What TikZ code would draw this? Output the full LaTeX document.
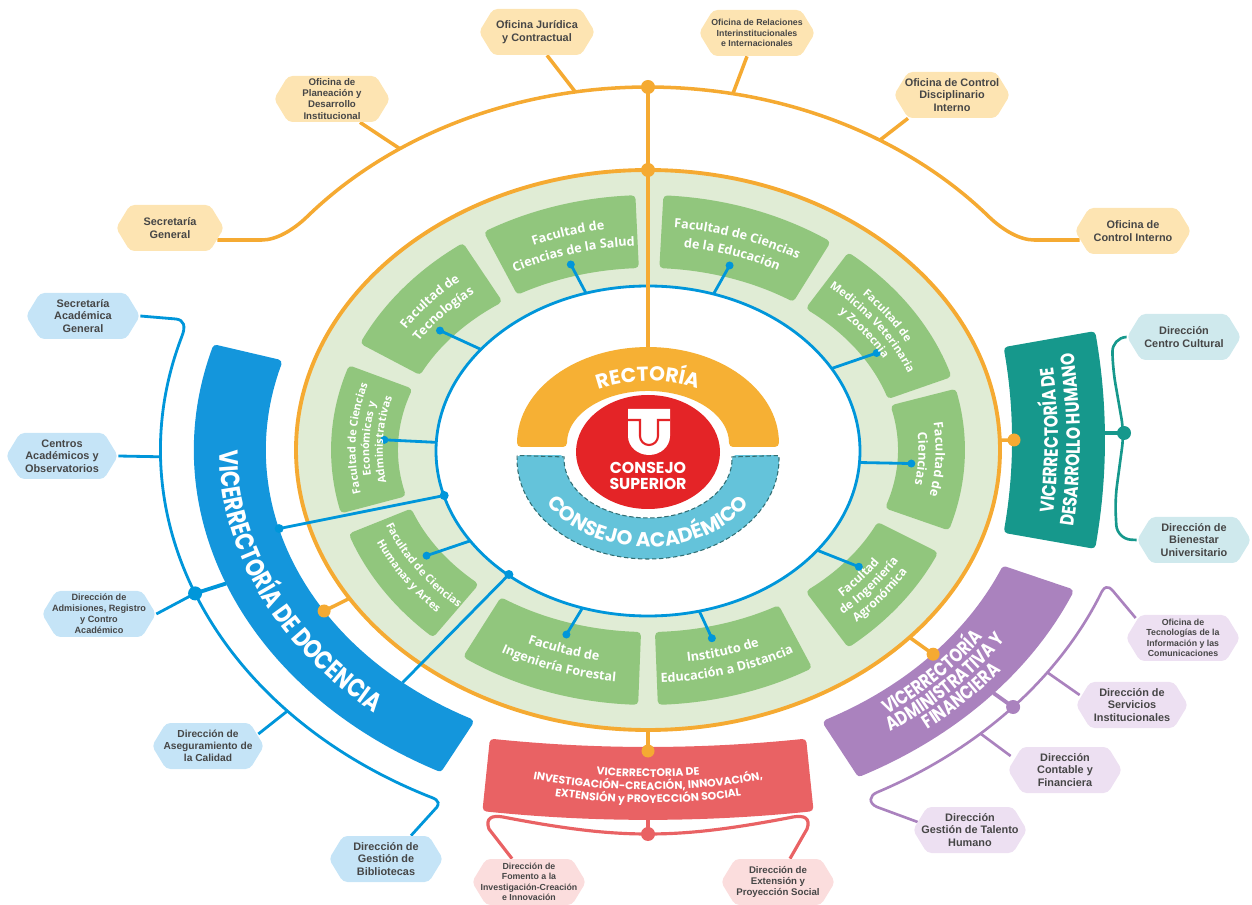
\documentclass[tikz,border=0pt]{standalone}
\usepackage{fontspec}
\setmainfont{Liberation Sans}
\newfontfamily\facfont{Open Sans}
\newfontfamily\titfont{Poppins}[FakeStretch=0.8]
\newfontfamily\popfont{Poppins}
\usetikzlibrary{calc,decorations.text}
\pgfdeclarelayer{fore}
\pgfsetlayers{main,fore}

\definecolor{orng}{RGB}{245,170,50}
\definecolor{ringg}{RGB}{224,236,213}
\definecolor{facg}{RGB}{145,198,125}
\definecolor{blu}{RGB}{0,150,218}
\definecolor{docb}{RGB}{20,150,220}
\definecolor{rectc}{RGB}{246,176,52}
\definecolor{redc}{RGB}{228,36,39}
\definecolor{acad}{RGB}{100,195,218}
\definecolor{acadb}{RGB}{50,110,115}
\definecolor{teal1}{RGB}{22,152,140}
\definecolor{purp}{RGB}{170,130,190}
\definecolor{redb}{RGB}{233,98,100}
\definecolor{hexo}{RGB}{253,228,178}
\definecolor{hexb}{RGB}{197,228,247}
\definecolor{hext}{RGB}{207,233,237}
\definecolor{hexp}{RGB}{237,224,242}
\definecolor{hexr}{RGB}{251,221,221}
\definecolor{hextxt}{RGB}{70,70,70}

\tikzset{
 oline/.style={draw=orng, line width=2pt},
 bline/.style={draw=blu, line width=1.6pt},
 tline/.style={draw=teal1, line width=1.5pt},
 pline/.style={draw=purp, line width=1.5pt},
 rline/.style={draw=redb, line width=1.8pt},
 facbox/.style={fill=facg, draw=facg, line width=4.5pt, line join=round},
 docbox/.style={fill=docb, draw=docb, line width=4.5pt, line join=round},
 tealbox/.style={fill=teal1, draw=teal1, line width=4.5pt, line join=round},
 purbox/.style={fill=purp, draw=purp, line width=4.5pt, line join=round},
 redbox/.style={fill=redb, draw=redb, line width=4.5pt, line join=round},
 rectbox/.style={fill=rectc, draw=rectc, line width=4.5pt, line join=round},
 acadbox/.style={fill=acad, draw=acad, line width=4.5pt, line join=round},
 acaddash/.style={draw=acadb, line width=0.6pt, dash pattern=on 2.5pt off 1.5pt},
 hextext/.style={text=hextxt, align=center, inner sep=0pt, minimum height=0.92cm},
}

\newcommand{\annsec}[9]{%
 \pgfmathsetmacro\sxa{#2+(#6)*cos(#8)}%
 \pgfmathsetmacro\sya{#3+(#7)*sin(#8)}%
 \pgfmathsetmacro\sxb{#2+(#4)*cos(#9)}%
 \pgfmathsetmacro\syb{#3+(#5)*sin(#9)}%
 \path[#1] (\sxa,\sya) arc[start angle=#8, end angle=#9, x radius=#6, y radius=#7] -- (\sxb,\syb) arc[start angle=#9, end angle=#8, x radius=#4, y radius=#5] -- cycle;}

\newcommand{\curvtext}[8]{%
 \pgfmathsetmacro\ctx{#1+(#3)*cos(#5)}%
 \pgfmathsetmacro\cty{#2+(#4)*sin(#5)}%
 \path[decorate, decoration={text along path, text align=center, text={|#7|#8}}] (\ctx,\cty) arc[start angle=#5, end angle=#6, x radius=#3, y radius=#4];}

\newcommand{\facsz}{7.2}
\newcommand{\facfmt}{\facfont\bfseries\fontsize{\facsz}{\facsz}\selectfont\color{white}}
\newcommand{\fline}[4]{\curvtext{648}{-450}{254+59*#1}{186+65*#1}{#2}{#3}{\facfmt}{#4}}
\newcommand{\docfmt}{\titfont\bfseries\fontsize{15}{15}\selectfont\color{white}}
\newcommand{\vicefmt}{\titfont\bfseries\fontsize{11}{11}\selectfont\color{white}}
\newcommand{\redfmt}{\popfont\bfseries\fontsize{6.2}{6.2}\selectfont\color{white}}
\newcommand{\cenfmt}{\popfont\bfseries\fontsize{11.5}{11.5}\selectfont\color{white}}

\newcommand{\hexa}[8]{%
 \fill[#5, rounded corners=2.5pt] (#2-#4/2,-#3) -- (#2-#4/2+14,-#3+23) -- (#2+#4/2-14,-#3+23) -- (#2+#4/2,-#3) -- (#2+#4/2-14,-#3-23) -- (#2-#4/2+14,-#3-23) -- cycle;
 \node[hextext, minimum width=#4*0.02cm, font=\bfseries\fontsize{#6}{#7}\selectfont] (#1) at (#2,-#3) {#8};}

\begin{document}
\begin{tikzpicture}[x=0.02cm,y=0.02cm]
\useasboundingbox (0,0) rectangle (1252,-905);
\coordinate (C) at (648,-450);

% ---------- hexagons (top layer) ----------
\begin{pgfonlayer}{fore}
\hexa{jur}{537}{32}{116}{hexo}{6.2}{7.2}{Oficina Jurídica\\y Contractual}
\hexa{rel}{757}{33}{116}{hexo}{5}{6}{Oficina de Relaciones\\Interinstitucionales\\e Internacionales}
\hexa{pla}{332}{99}{116}{hexo}{5.5}{6.3}{Oficina de\\Planeación y\\Desarrollo\\Institucional}
\hexa{cdi}{952}{95}{116}{hexo}{6.2}{7.2}{Oficina de Control\\Disciplinario\\Interno}
\hexa{sg}{170}{228}{108}{hexo}{6.2}{7.2}{Secretaría\\General}
\hexa{oci}{1133}{231}{116}{hexo}{6.2}{7.2}{Oficina de\\Control Interno}
\hexa{sag}{83}{316}{114}{hexb}{6.2}{7.2}{Secretaría\\Académica\\General}
\hexa{cao}{62}{456}{112}{hexb}{6.2}{7.2}{Centros\\Académicos y\\Observatorios}
\hexa{adm}{99}{614}{114}{hexb}{5.2}{6.2}{Dirección de\\Admisiones, Registro\\y Contro\\Académico}
\hexa{ase}{208}{746}{112}{hexb}{5.8}{6.8}{Dirección de\\Aseguramiento de\\la Calidad}
\hexa{bib}{386}{859}{114}{hexb}{6.2}{7.2}{Dirección de\\Gestión de\\Bibliotecas}
\hexa{ccu}{1184}{337}{114}{hext}{6.2}{7.2}{Dirección\\Centro Cultural}
\hexa{bie}{1194}{540}{114}{hext}{6.2}{7.2}{Dirección de\\Bienestar\\Universitario}
\hexa{tic}{1183}{638}{114}{hexp}{5}{6}{Oficina de\\Tecnologías de la\\Información y las\\Comunicaciones}
\hexa{ser}{1132}{705}{112}{hexp}{6.2}{7.2}{Dirección de\\Servicios\\Institucionales}
\hexa{con}{1065}{770}{114}{hexp}{6.2}{7.2}{Dirección\\Contable y\\Financiera}
\hexa{tal}{970}{830}{114}{hexp}{6.2}{7.2}{Dirección\\Gestión de Talento\\Humano}
\hexa{fom}{529}{882}{114}{hexr}{5}{6}{Dirección de\\Fomento a la\\Investigación-Creación\\e Innovación}
\hexa{ext}{778}{882}{114}{hexr}{5.5}{6.5}{Dirección de\\Extensión y\\Proyección Social}
\end{pgfonlayer}

% ---------- outer orange arc ----------
\coordinate (pA) at (399.8,-148.7);
\coordinate (jA) at (575.3,-91.9);
\coordinate (rA) at (732.9,-93.7);
\coordinate (cA) at (879.8,-140.2);
\coordinate (topA) at (648,-87);
\coordinate (topR) at (648,-170);
\draw[oline] ($(sg.east)+(-7,-12)$) -- (262,-240) .. controls (276,-240) and (293,-230.3) .. (307.1,-216.7)
  arc[start angle=140, end angle=40, x radius=445, y radius=363]
  .. controls (1003,-230.3) and (1020,-240) .. (1034,-240) -- ($(oci.west)+(5,-9)$);
\draw[oline] ($(pla.south)+(28,0)$) -- (pA);
\draw[oline] ($(jur.south)+(10,0)$) -- (jA);
\draw[oline] ($(rel.south)+(-10,0)$) -- (rA);
\draw[oline] ($(cdi.south)+(-44,0)$) -- (cA);

% ---------- rings ----------
\draw[draw=orng, line width=2.2pt, fill=ringg] (C) ellipse[x radius=352, y radius=280];
\draw[bline, fill=white] (648,-451) ellipse[x radius=212, y radius=165];

% docencia links into the blue ring
\coordinate (L1a) at (279.1,-528.6);
\coordinate (L1b) at (444.2,-495.5);
\coordinate (L2a) at (402.5,-682.7);
\coordinate (L2b) at (508.9,-574.5);
\draw[bline] (L1a) -- (L1b);
\draw[bline] (L2a) -- (L2b);
\fill[blu] (L1b) circle[radius=4.5];
\fill[blu] (L2b) circle[radius=4.5];

% ---------- faculty boxes ----------
\annsec{facbox}{648}{-450}{254}{186}{313}{251}{93}{120.5}
\annsec{facbox}{648}{-450}{254}{186}{313}{251}{55.5}{86.5}
\annsec{facbox}{648}{-450}{254}{186}{313}{251}{17.5}{50}
\annsec{facbox}{648}{-450}{254}{186}{313}{251}{-17.5}{13}
\annsec{facbox}{648}{-450}{254}{186}{313}{251}{-50}{-24.5}
\annsec{facbox}{648}{-450}{254}{186}{313}{251}{-87.5}{-59.5}
\annsec{facbox}{648}{-450}{254}{186}{313}{251}{-125}{-92.5}
\annsec{facbox}{648}{-450}{254}{186}{313}{251}{-160}{-133.5}
\annsec{facbox}{648}{-450}{254}{186}{313}{251}{161.5}{193.5}
\annsec{facbox}{648}{-450}{254}{186}{313}{251}{126.5}{154.5}

\foreach \a in {107,72,30,-4,-37,-76,-108,-147,177,142} {
  \draw[bline] ($(648,-451)+(\a:212 and 165)$) -- ($(C)+(\a:264 and 194)$);
  \fill[blu] ($(C)+(\a:264 and 194)$) circle[radius=4];
}

% ---------- vertical orange spine ----------
\draw[oline] (topA) -- (648,-347);
\fill[orng] (topA) circle[radius=7];
\fill[orng] (topR) circle[radius=7];

% ---------- centre ----------
\annsec{rectbox}{648}{-443}{85}{56}{127}{92}{0}{180}
\annsec{acadbox}{648}{-459}{88}{63}{127}{96}{180}{360}
\annsec{acaddash}{648}{-459}{84}{59}{131}{100}{178}{362}
\fill[redc] (648,-452) ellipse[x radius=72, y radius=57];
\fill[white] (628,-409) -- (670,-409) -- (670,-436) arc[start angle=0, end angle=-180, x radius=21, y radius=19] -- cycle;
\draw[redc, line width=1.2pt] (628,-420) -- (640,-420) -- (640,-436) arc[start angle=180, end angle=360, radius=9] -- (658,-420) -- (670,-420);
\node[font=\popfont\bfseries\fontsize{9}{9.5}\selectfont, text=white, align=center, inner sep=0pt] (csup) at (648,-476) {CONSEJO\\SUPERIOR};
\curvtext{648}{-443}{100}{62}{165}{15}{\cenfmt}{RECTORÍA}
\curvtext{648}{-458}{118}{89}{190}{350}{\cenfmt}{CONSEJO ACADÉMICO}

% ---------- stems from the orange ring ----------
\coordinate (oD) at (349.5,-598.4);  \coordinate (dD) at (324.1,-611);
\coordinate (oP) at (909.6,-637.4);  \coordinate (dP) at (933.1,-654.2);
\coordinate (oT) at (999.8,-440.2);  \coordinate (dT) at (1014,-440);
\coordinate (oR) at (648,-730);      \coordinate (dR) at (648,-751);
\draw[oline] (oD) -- (dD);
\draw[oline] (oP) -- (dP);
\draw[oline] (oT) -- (dT);
\draw[oline] (oR) -- (dR);

% ---------- vice-rectorate boxes ----------
\annsec{docbox}{648}{-450}{386.1}{307.2}{450.2}{358.1}{163.6}{242.4}
\annsec{tealbox}{500}{-440}{516}{516}{601}{601}{-10}{10}
\annsec{purbox}{648}{-450}{387.6}{308.3}{457.2}{363.7}{-62.4}{-23}
\annsec{redbox}{648}{753}{1504}{1504}{1569}{1569}{-95.9}{-84.1}
\fill[blu] (L1a) circle[radius=4.5];
\foreach \p in {dD,dP,dT,dR} \fill[orng] (\p) circle[radius=6.5];

% ---------- docencia tree ----------
\coordinate (D1) at (195.1,-593.4);
\coordinate (D1b) at (226.1,-583.5);
\coordinate (aC) at (160.6,-456.8);
\coordinate (aA) at (287.4,-711);
\draw[bline] (sag.east) -- (176,-319) .. controls (184,-320) and (186,-326) .. (181.8,-336.6)
  arc[start angle=163, end angle=243, x radius=487.5, y radius=387.8]
  .. controls (434,-798.5) and (441,-800) .. (437,-807) -- ($(bib.north)+(25,0)$);
\draw[bline] (cao.east) -- (aC);
\draw[bline] (adm.east) -- (D1);
\draw[bline, line width=2.2pt] (D1) -- (D1b);
\draw[bline] ($(ase.east)+(-6,12)$) -- (aA);
\fill[blu] (D1) circle[radius=7];

% ---------- teal bracket ----------
\coordinate (tS) at (1105,-433);
\coordinate (tD) at (1124,-433);
\draw[tline, line width=2.2pt] (tS) -- (tD);
\draw[tline, rounded corners=8] (ccu.west) -- (1112,-338) -- (1113,-370) -- (tD) -- (1115,-500) -- (1117,-539) -- (bie.west);
\fill[teal1] (tD) circle[radius=7];

% ---------- purple tree ----------
\coordinate (pS) at (993.4,-693);
\coordinate (pD) at (1013.1,-707);
\coordinate (pSer) at (1047.3,-672.4);
\coordinate (pCon) at (980.5,-733.6);
\draw[pline] ($(tic.west)+(10,20)$) -- (1113,-591) .. controls (1108,-585) and (1104,-586) .. (1100,-595.3)
  arc[start angle=-22, end angle=-62, x radius=487.5, y radius=387.8]
  .. controls (869.5,-795.5) and (868,-803) .. (877,-807) -- ($(tal.west)+(5,8)$);
\draw[pline] (pSer) -- ($(ser.west)+(4,10)$);
\draw[pline] (pCon) -- ($(con.west)+(3,14)$);
\draw[pline, line width=2.2pt] (pS) -- (pD);
\fill[purp] (pD) circle[radius=7];

% ---------- red bracket ----------
\coordinate (rS) at (648,-818);
\coordinate (rD) at (648,-834);
\draw[rline, line width=2.4pt] (rS) -- (rD);
\draw[rline] ($(fom.north)+(-17,0)$) -- (489,-829) .. controls (485,-818) and (492,-815) .. (503,-817)
  .. controls (570,-830) and (610,-834) .. (rD)
  .. controls (686,-834) and (726,-830) .. (793,-817) .. controls (804,-815) and (811,-818) .. (807,-829)
  -- ($(ext.north)+(12,0)$);
\fill[redb] (rD) circle[radius=7];

% ---------- box texts ----------
\curvtext{648}{-450}{1.218*352}{1.218*280}{150}{256}{\docfmt}{VICERRECTORÍA DE DOCENCIA}
\curvtext{500}{-440}{558}{558}{-25}{25}{\vicefmt}{VICERRECTORÍA DE}
\curvtext{500}{-440}{580}{580}{-25}{25}{\vicefmt}{DESARROLLO HUMANO}
\curvtext{648}{-450}{1.164*352}{1.164*280}{-77.75}{-7.75}{\vicefmt}{VICERRECTORÍA}
\curvtext{648}{-450}{1.22*352}{1.22*280}{-77.75}{-7.75}{\vicefmt}{ADMINISTRATIVA Y}
\curvtext{648}{-450}{1.276*352}{1.276*280}{-77.75}{-7.75}{\vicefmt}{FINANCIERA}
\curvtext{648}{-177}{600}{600}{-110}{-70}{\redfmt}{VICERRECTORIA DE}
\curvtext{648}{-177}{613}{613}{-110}{-70}{\redfmt}{INVESTIGACIÓN-CREACIÓN, INNOVACIÓN,}
\curvtext{648}{-177}{626}{626}{-110}{-70}{\redfmt}{EXTENSIÓN y PROYECCIÓN SOCIAL}

% faculty labels
\fline{0.57}{134.5}{79}{Facultad de}
\fline{0.28}{134.5}{79}{Ciencias de la Salud}
\fline{0.57}{100.5}{41.5}{Facultad de Ciencias}
\fline{0.28}{100.5}{41.5}{de la Educación}
\fline{0.57}{27}{-31.5}{Facultad de}
\fline{0.28}{27}{-31.5}{Ciencias}
\fline{0.43}{-101.5}{-45.5}{Instituto de}
\fline{0.72}{-101.5}{-45.5}{Educación a Distancia}
\fline{0.43}{-139}{-78.5}{Facultad de}
\fline{0.72}{-139}{-78.5}{Ingeniería Forestal}
\fline{0.57}{168.5}{112.5}{Facultad de}
\fline{0.28}{168.5}{112.5}{Tecnologías}
\renewcommand{\facsz}{6.8}
\fline{0.35}{-64}{-10.5}{Facultad}
\fline{0.58}{-64}{-10.5}{de Ingeniería}
\fline{0.81}{-64}{-10.5}{Agronómica}
\renewcommand{\facsz}{6.4}
\fline{0.65}{64}{3.5}{Facultad de}
\fline{0.42}{64}{3.5}{Medicina Veterinaria}
\fline{0.19}{64}{3.5}{y Zootecnia}
\renewcommand{\facsz}{6.2}
\fline{0.44}{-175}{-119.5}{Facultad de Ciencias}
\fline{0.71}{-175}{-119.5}{Humanas y Artes}
\fline{0.65}{207}{147.5}{Facultad de Ciencias}
\fline{0.42}{207}{147.5}{Económicas y}
\fline{0.19}{207}{147.5}{Administrativas}
\end{tikzpicture}
\end{document}
